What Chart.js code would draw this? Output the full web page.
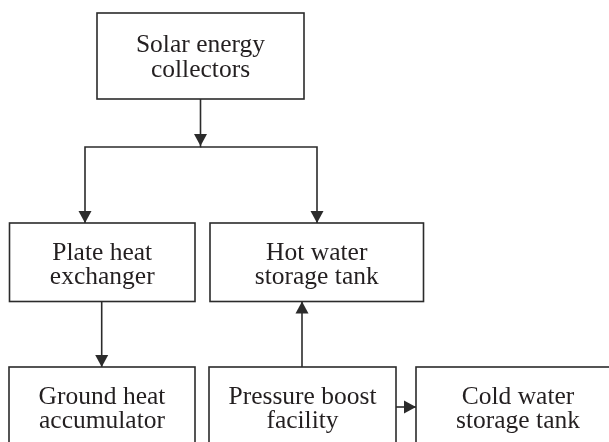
<!DOCTYPE html>
<html>
<head>
<meta charset="utf-8">
<script src="https://cdn.jsdelivr.net/npm/chart.js@4/dist/chart.umd.min.js"></script>
<style>
html,body{margin:0;padding:0;background:#fff;}
#wrap{width:609px;height:442px;position:relative;}
</style>
</head>
<body>
<div id="wrap"><canvas id="c"></canvas></div>
<script>
// Flowchart content
const nodeLabels = [
  ["Solar energy", "collectors"],
  ["Plate heat", "exchanger"],
  ["Hot water", "storage tank"],
  ["Ground heat", "accumulator"],
  ["Pressure boost", "facility"],
  ["Cold water", "storage tank"]
];
// connections: [from, to]
const edgeFrom = [0, 0, 1, 4, 4];
const edgeTo   = [1, 2, 3, 2, 5];

// Layout (in axis units: x 0..609, y 0..442 top-down)
const layout = {
  boxes: [
    {x0: 97,  x1: 304,   y0: 13,  y1: 99,    base: 52},
    {x0: 9.5, x1: 195,   y0: 223, y1: 301.5, base: 259.5},
    {x0: 210, x1: 423.5, y0: 223, y1: 301.5, base: 259.5},
    {x0: 9,   x1: 195,   y0: 367, y1: 470,   base: 403.5},
    {x0: 209, x1: 396,   y0: 367, y1: 470,   base: 403.5},
    {x0: 416, x1: 620,   y0: 367, y1: 470,   base: 403.5}
  ],
  // polyline routes for each edge, last point is arrow tip
  routes: [
    [[200.5, 99], [200.5, 147], [85, 147], [85, 223]],
    [[200.5, 147], [317, 147], [317, 223]],
    [[101.7, 301.5], [101.7, 367]],
    [[302, 367], [302, 301.5]],
    [[396, 407], [416, 407]]
  ],
  extraHeads: [[200.5, 147]]
};
const style = {line: '#2b2b2b', width: 1.6, font: '25.5px "Liberation Serif", serif', text: '#231f20', lineGap: 24.8};

const flowPlugin = {
  id: 'flow',
  afterDatasetsDraw(chart) {
    const ctx = chart.ctx;
    const xs = chart.scales.x, ys = chart.scales.y;
    const px = v => xs.getPixelForValue(v), py = v => ys.getPixelForValue(v);
    ctx.save();
    ctx.strokeStyle = style.line;
    ctx.fillStyle = style.line;
    ctx.lineWidth = style.width;
    // boxes
    layout.boxes.forEach((b, i) => {
      const x0 = px(b.x0), x1 = px(b.x1), y0 = py(b.y0), y1 = py(b.y1);
      ctx.strokeRect(x0, y0, x1 - x0, y1 - y0);
      const cx = (x0 + x1) / 2;
      ctx.fillStyle = style.text;
      ctx.font = style.font;
      ctx.textAlign = 'center';
      ctx.textBaseline = 'alphabetic';
      nodeLabels[i].forEach((t, k) => {
        ctx.fillText(t, cx, py(b.base) + k * style.lineGap);
      });
      ctx.fillStyle = style.line;
    });
    // arrows
    const head = (tx, ty, dx, dy) => {
      const L = 12, W = 6.5;
      const len = Math.hypot(dx, dy); const ux = dx / len, uy = dy / len;
      const bx = tx - ux * L, by = ty - uy * L;
      ctx.beginPath();
      ctx.moveTo(tx, ty);
      ctx.lineTo(bx - uy * W, by + ux * W);
      ctx.lineTo(bx + uy * W, by - ux * W);
      ctx.closePath();
      ctx.fill();
    };
    edgeFrom.forEach((f, e) => {
      const r = layout.routes[e];
      ctx.beginPath();
      r.forEach((p, k) => { const X = px(p[0]), Y = py(p[1]); k ? ctx.lineTo(X, Y) : ctx.moveTo(X, Y); });
      ctx.stroke();
      const a = r[r.length - 2], b = r[r.length - 1];
      head(px(b[0]), py(b[1]), px(b[0]) - px(a[0]), py(b[1]) - py(a[1]));
    });
    layout.extraHeads.forEach(p => head(px(p[0]), py(p[1]) - 1, 0, 1));
    ctx.restore();
  }
};

new Chart(document.getElementById('c'), {
  type: 'scatter',
  data: {
    datasets: [{
      label: 'nodes',
      data: layout.boxes.map((b, i) => ({x: (b.x0 + b.x1) / 2, y: (b.y0 + b.y1) / 2, label: nodeLabels[i].join(' ')})),
      pointRadius: 0
    }]
  },
  options: {
    responsive: true,
    maintainAspectRatio: false,
    animation: false,
    layout: {padding: 0},
    plugins: {legend: {display: false}, tooltip: {enabled: false}},
    scales: {
      x: {type: 'linear', min: 0, max: 609, display: false},
      y: {type: 'linear', min: 0, max: 442, reverse: true, display: false}
    }
  },
  plugins: [flowPlugin]
});
</script>
</body>
</html>
